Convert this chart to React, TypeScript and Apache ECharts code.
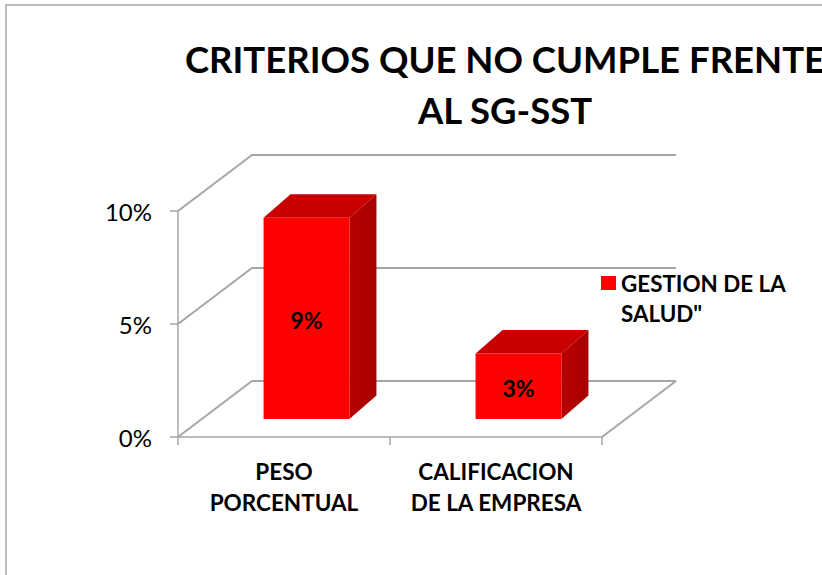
import React, { useEffect, useRef } from "react";
import * as echarts from "echarts";

const categories = ["PESO\nPORCENTUAL", "CALIFICACION\nDE LA EMPRESA"];
const seriesName = 'GESTION DE LA SALUD"';
const values = [0.089, 0.029];
const yTicks = [0, 0.05, 0.1];
const titleLines = ["CRITERIOS QUE NO CUMPLE FRENTE", "AL SG-SST"];

const DX = 74;
const DY = -56;
const FRONT_X = 22.5;
const FRONT_Y = -18;
const BAR_DX = 27;
const BAR_DY = -23.5;
const BAR_W = 0.405;
const FONT = "Lato, 'Open Sans', sans-serif";
const GRID_COLOR = "#a6a6a6";

const pct = (v: number) => `${Math.round(v * 100)}%`;

export default function App() {
  const ref = useRef<HTMLDivElement>(null);
  useEffect(() => {
    const chart = echarts.init(ref.current!, null, { renderer: "svg" });
    chart.setOption({
      animation: false,
      backgroundColor: "#ffffff",
      title: {
        text: titleLines.join("\n"),
        left: 505,
        top: 33,
        textAlign: "center",
        padding: 0,
        textStyle: {
          fontFamily: FONT,
          fontWeight: "bold",
          fontSize: 36.5,
          lineHeight: 51,
          color: "#000",
        },
      },
      legend: {
        data: [seriesName],
        left: 601,
        top: 268,
        padding: 0,
        orient: "vertical",
        itemWidth: 15,
        itemHeight: 60,
        icon: "path://M0,8h15v14h-15z M0,0h0.01v0.01h-0.01z M0,60h0.01v0.01h-0.01z",
        formatter: (name: string) => name.replace("LA ", "LA\n"),
        textStyle: {
          fontFamily: FONT,
          fontWeight: "bold",
          fontSize: 22.4,
          lineHeight: 30,
          color: "#000",
        },
      },
      grid: { left: 178, right: 220, top: 211, bottom: 138 },
      xAxis: {
        type: "category",
        data: categories,
        axisLine: { show: true, lineStyle: { color: GRID_COLOR, width: 1.5 } },
        axisTick: { show: true, length: 8, lineStyle: { color: GRID_COLOR, width: 1.5 } },
        axisLabel: {
          interval: 0,
          color: "#000",
          fontFamily: FONT,
          fontWeight: "bold",
          fontSize: 22.5,
          lineHeight: 31,
          margin: 19,
        },
        splitLine: { show: false },
      },
      yAxis: {
        type: "value",
        min: 0,
        max: 0.1,
        interval: 0.05,
        axisLine: { show: true, lineStyle: { color: GRID_COLOR, width: 1.5 } },
        axisTick: { show: true, length: 8, lineStyle: { color: GRID_COLOR, width: 1.5 } },
        splitLine: { show: false },
        axisLabel: {
          formatter: (v: number) => pct(v),
          color: "#000",
          fontFamily: FONT,
          fontSize: 24,
          margin: 26,
        },
      },
      graphic: [
        {
          type: "rect",
          silent: true,
          z: -10,
          shape: { x: 6, y: 5, width: 900, height: 700 },
          style: { fill: "none", stroke: "#a9a9a9", lineWidth: 1.5 },
        },
      ],
      series: [
        {
          name: "walls",
          type: "custom",
          silent: true,
          z: 1,
          data: yTicks.map((v) => [0, v]),
          renderItem: (params: any, api: any) => {
            const v = api.value(1);
            const cs = params.coordSys;
            const y = api.coord([0, v])[1];
            const x0 = cs.x;
            const x1 = cs.x + cs.width;
            const style = { stroke: GRID_COLOR, lineWidth: 2, fill: "none" };
            const children: any[] = [
              {
                type: "polyline",
                shape: { points: [[x0, y], [x0 + DX, y + DY], [x1 + DX, y + DY]] },
                style,
              },
            ];
            if (v === 0) {
              children.push({
                type: "line",
                shape: { x1: x1, y1: y, x2: x1 + DX, y2: y + DY },
                style,
              });
            }
            return { type: "group", children };
          },
        },
        {
          name: seriesName,
          type: "custom",
          z: 5,
          itemStyle: { color: "#ff0000" },
          data: values.map((v, i) => [i, v]),
          renderItem: (params: any, api: any) => {
            const i = api.value(0);
            const v = api.value(1);
            const base = api.coord([i, 0]);
            const top = api.coord([i, v]);
            const bw = api.size([1, 0])[0] * BAR_W;
            const xl = base[0] - bw / 2 + FRONT_X;
            const xr = xl + bw;
            const yb = base[1] + FRONT_Y;
            const yt = top[1] + FRONT_Y;
            return {
              type: "group",
              children: [
                {
                  type: "polygon",
                  shape: {
                    points: [
                      [xl, yt],
                      [xl + BAR_DX, yt + BAR_DY],
                      [xr + BAR_DX, yt + BAR_DY],
                      [xr, yt],
                    ],
                  },
                  style: { fill: "#c80000" },
                },
                {
                  type: "polygon",
                  shape: {
                    points: [
                      [xr, yt],
                      [xr + BAR_DX, yt + BAR_DY],
                      [xr + BAR_DX, yb + BAR_DY],
                      [xr, yb],
                    ],
                  },
                  style: {
                    fill: new echarts.graphic.LinearGradient(0, 0, 1, 0, [
                      { offset: 0, color: "#b80000" },
                      { offset: 1, color: "#a80000" },
                    ]),
                  },
                },
                {
                  type: "rect",
                  shape: { x: xl, y: yt, width: bw, height: yb - yt },
                  style: { fill: "#ff0000" },
                },
                {
                  type: "text",
                  style: {
                    text: pct(v),
                    x: (xl + xr) / 2,
                    y: (yt + yb) / 2 + 2,
                    align: "center",
                    verticalAlign: "middle",
                    fontFamily: FONT,
                    fontWeight: "bold",
                    fontSize: 23,
                    fill: "#000",
                  },
                },
              ],
            };
          },
        },
      ],
    });
    return () => chart.dispose();
  }, []);
  return (
    <div
      ref={ref}
      style={{ position: "fixed", left: 0, top: 0, width: 822, height: 575 }}
    />
  );
}
